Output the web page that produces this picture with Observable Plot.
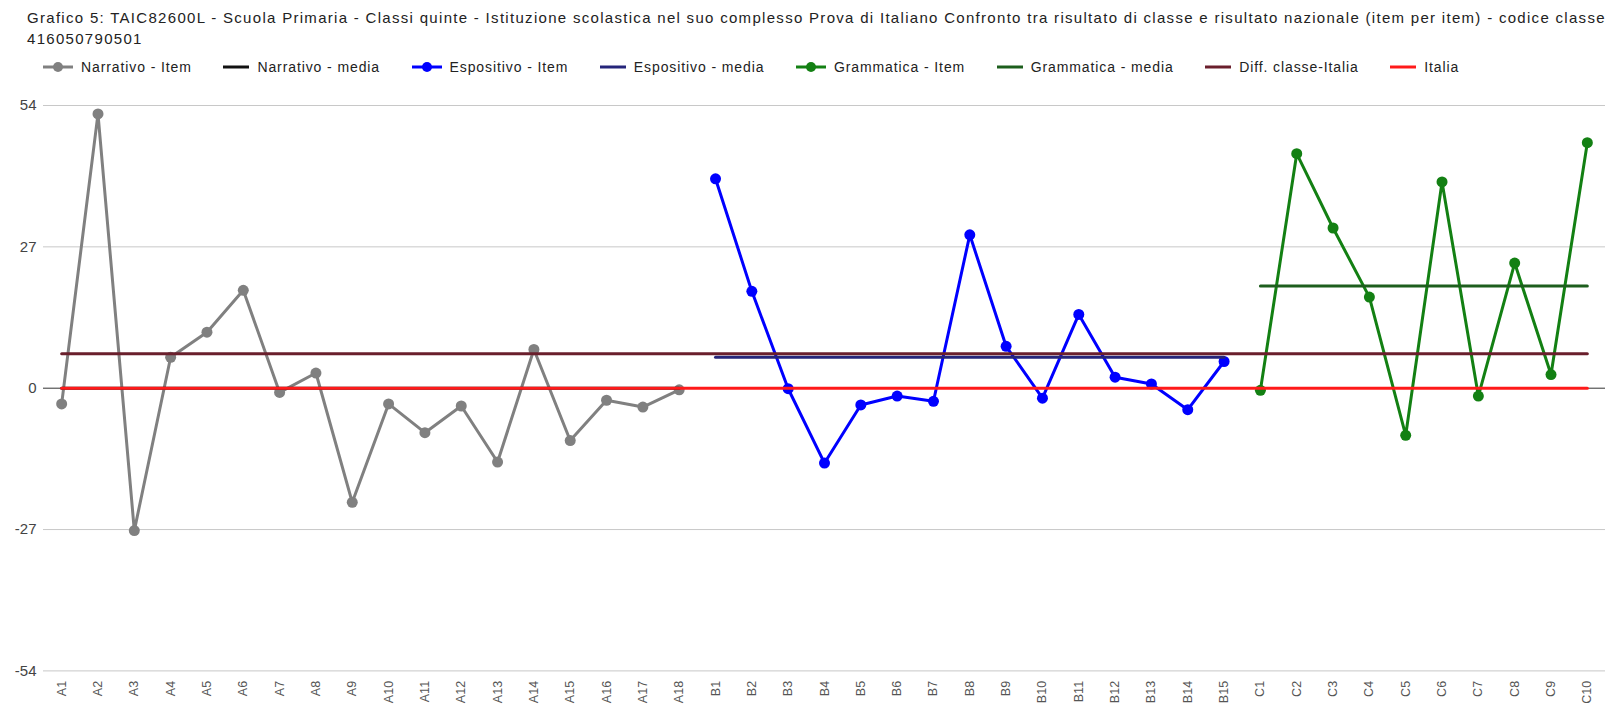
<!DOCTYPE html>
<html>
<head>
<meta charset="utf-8">
<script src="https://cdn.jsdelivr.net/npm/d3@7"></script>
<script src="https://cdn.jsdelivr.net/npm/@observablehq/plot@0.6"></script>
<style>
  html, body { margin: 0; padding: 0; background: #fff; }
  body { width: 1605px; height: 715px; overflow: hidden; font-family: "Liberation Sans", Arial, sans-serif; }
  #header { height: 80px; box-sizing: border-box; padding: 8px 0 0 27px; color: #222; overflow: hidden; }
  .tline { font-size: 15px; line-height: 20.5px; letter-spacing: 1.3px; white-space: nowrap; }
  #legend { display: flex; align-items: center; margin-top: 10px; margin-left: 14px; font-size: 14px; letter-spacing: 0.9px; color: #222; white-space: nowrap; }
  .item { display: flex; align-items: center; margin-right: 29.5px; }
  .item svg { margin-right: 6px; }
</style>
</head>
<body>
<div id="header">
  <div id="title"></div>
  <div id="legend"></div>
</div>
<div id="chart"></div>
<script>
// ---- data ----
const titleLines = [
  "Grafico 5: TAIC82600L - Scuola Primaria - Classi quinte - Istituzione scolastica nel suo complesso Prova di Italiano Confronto tra risultato di classe e risultato nazionale (item per item) - codice classe",
  "416050790501"
];

const narrLabels = ["A1","A2","A3","A4","A5","A6","A7","A8","A9","A10","A11","A12","A13","A14","A15","A16","A17","A18"];
const espLabels = ["B1","B2","B3","B4","B5","B6","B7","B8","B9","B10","B11","B12","B13","B14","B15"];
const gramLabels = ["C1","C2","C3","C4","C5","C6","C7","C8","C9","C10"];

const narrValues = [-3.0, 52.4, -27.2, 5.9, 10.7, 18.7, -0.8, 2.9, -21.8, -3.0, -8.5, -3.4, -14.1, 7.4, -10.0, -2.3, -3.6, -0.3];
const espValues = [40.0, 18.5, -0.1, -14.3, -3.2, -1.5, -2.5, 29.3, 8.0, -1.9, 14.1, 2.1, 0.8, -4.1, 5.1];
const gramValues = [-0.4, 44.8, 30.6, 17.4, -9.0, 39.4, -1.5, 23.9, 2.6, 46.9];

const narrMedia = 0.0;
const espMedia = 5.9;
const gramMedia = 19.5;
const diffClasseItalia = 6.6;
const italia = 0.0;

const yTicks = [-54, -27, 0, 27, 54];

const seriesNames = ["Narrativo - Item","Narrativo - media","Espositivo - Item","Espositivo - media","Grammatica - Item","Grammatica - media","Diff. classe-Italia","Italia"];
const seriesColors = ["#808080","#111111","#0000ff","#25257a","#138013","#1d5e1d","#6a1f2c","#ff1a1a"];
const seriesHasDot = [true,false,true,false,true,false,false,false];

// ---- header ----
d3.select("#title").selectAll("div").data(titleLines).join("div").attr("class", "tline").text(d => d);
const legend = d3.select("#legend");
seriesNames.forEach((name, i) => {
  const it = legend.append("div").attr("class", "item");
  const w = seriesHasDot[i] ? 34 : 30;
  const s = it.append("svg").attr("width", w).attr("height", 14);
  s.append("line").attr("x1", 2).attr("x2", w - 2).attr("y1", 7).attr("y2", 7)
    .attr("stroke", seriesColors[i]).attr("stroke-width", 3);
  if (seriesHasDot[i]) s.append("circle").attr("cx", w / 2).attr("cy", 7).attr("r", 5).attr("fill", seriesColors[i]);
  it.append("span").text(name);
});

// ---- chart ----
const allLabels = [...narrLabels, ...espLabels, ...gramLabels];
const narr = narrLabels.map((k, i) => ({k, v: narrValues[i]}));
const esp = espLabels.map((k, i) => ({k, v: espValues[i]}));
const gram = gramLabels.map((k, i) => ({k, v: gramValues[i]}));

const lineOpts = (color) => ({x: "k", y: "v", stroke: color, strokeWidth: 3, strokeLinejoin: "round"});
const flat = (labels, value) => labels.map(k => ({k, v: value}));

const chart = Plot.plot({
  width: 1605,
  height: 635,
  marginTop: 25,
  marginBottom: 44.6,
  marginLeft: 43,
  marginRight: 0,
  style: {fontFamily: "'Liberation Sans', Arial, sans-serif", background: "#fff"},
  x: {type: "point", domain: allLabels, padding: 0.5, round: false, axis: null},
  y: {domain: [-54, 54], axis: null},
  marks: [
    Plot.gridY(yTicks.filter(t => t !== 0), {stroke: "#c8c8c8", strokeOpacity: 1, strokeWidth: 1}),
    Plot.ruleY([0], {stroke: "#333"}),
    Plot.axisY(yTicks, {label: null, tickSize: 0, tickPadding: 7, fontSize: 15, fill: "#444", tickFormat: d => `${d}`}),
    Plot.axisX(allLabels, {label: null, tickSize: 0, tickPadding: 10, tickRotate: -90, fontSize: 12.5, fill: "#555", style: {letterSpacing: "1.4px"}}),
    Plot.line(narr, lineOpts(seriesColors[0])),
    Plot.dot(narr, {x: "k", y: "v", r: 5.5, fill: seriesColors[0]}),
    Plot.line(flat(narrLabels, narrMedia), lineOpts(seriesColors[1])),
    Plot.line(esp, lineOpts(seriesColors[2])),
    Plot.dot(esp, {x: "k", y: "v", r: 5.5, fill: seriesColors[2]}),
    Plot.line(flat(espLabels, espMedia), lineOpts(seriesColors[3])),
    Plot.line(gram, lineOpts(seriesColors[4])),
    Plot.dot(gram, {x: "k", y: "v", r: 5.5, fill: seriesColors[4]}),
    Plot.line(flat(gramLabels, gramMedia), lineOpts(seriesColors[5])),
    Plot.line(flat(allLabels, diffClasseItalia), lineOpts(seriesColors[6])),
    Plot.line(flat(allLabels, italia), lineOpts(seriesColors[7]))
  ]
});
document.getElementById("chart").appendChild(chart);
</script>
</body>
</html>
